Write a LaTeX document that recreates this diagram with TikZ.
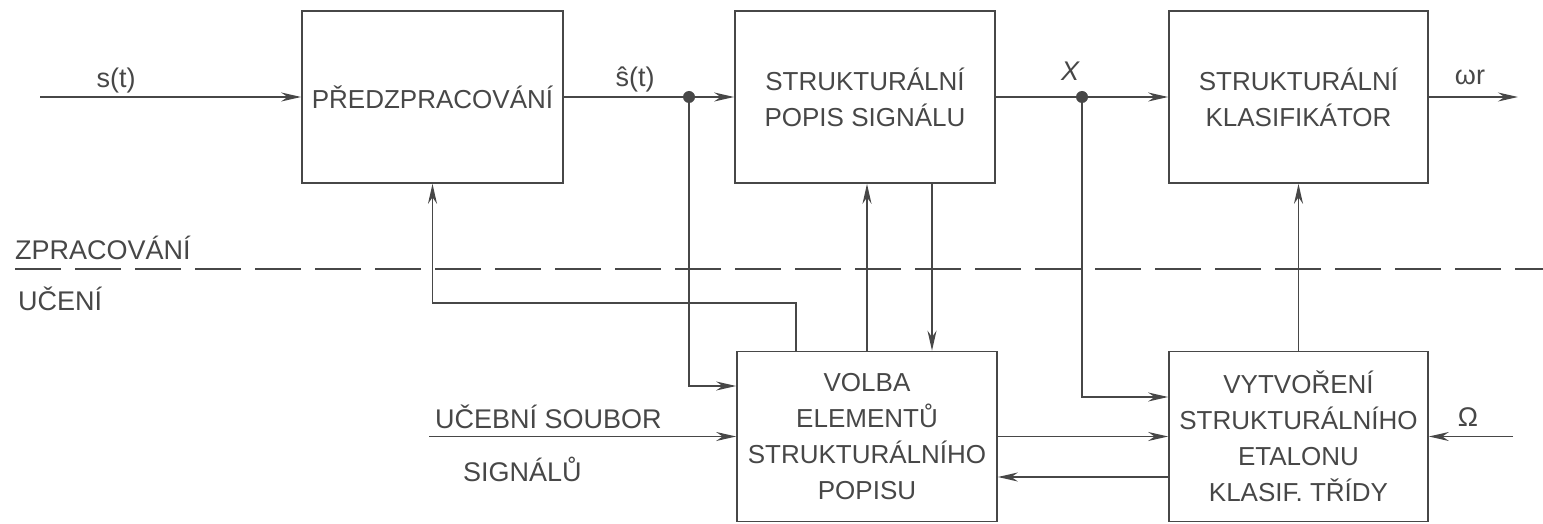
\documentclass[tikz,border=0pt]{standalone}
\usepackage{fontspec}
\setsansfont{Liberation Sans}
\usetikzlibrary{arrows.meta, positioning, calc}
\definecolor{ink}{HTML}{474747}
\tikzset{
  blok/.style={draw=ink, line width=1.7pt, minimum width=260pt, minimum height=172pt, align=center,
    font=\sffamily\fontsize{26}{36}\selectfont, text=ink, inner sep=2pt},
  flow/.style={-{Stealth[length=20pt, width=9pt]}, draw=ink, line width=1.7pt},
  wire/.style={draw=ink, line width=1.7pt},
  dashline/.style={draw=ink, line width=1.7pt, dash pattern=on 46pt off 14pt},
  uzel/.style={circle, fill=ink, inner sep=0pt, minimum size=12pt},
  lbl/.style={font=\sffamily\fontsize{27}{32}\selectfont, text=ink, inner sep=0pt}
}

\begin{document}
\begin{tikzpicture}[x=1pt, y=1pt]
\useasboundingbox (0,0) rectangle (1543,523);
% zpracovani
\node[blok, minimum width=261pt] (pre) at (432.5,426) {PŘEDZPRACOVÁNÍ};
\node[blok] (popis) at (865,426) {STRUKTURÁLNÍ\\POPIS SIGNÁLU};
\node[blok, minimum width=259pt] (klas) at (1298.5,426) {STRUKTURÁLNÍ\\KLASIFIKÁTOR};
% uceni
\node[blok, minimum height=170pt] (volba) at (867,86.5) {VOLBA\\ELEMENTŮ\\STRUKTURÁLNÍHO\\POPISU};
\node[blok, minimum width=259pt, minimum height=170pt] (vytv) at (1298.5,86.5) {VYTVOŘENÍ\\STRUKTURÁLNÍHO\\ETALONU\\KLASIF. TŘÍDY};
\node[uzel] (d1) at (689,426) {};
\node[uzel] (d2) at (1082,426) {};
\coordinate (vstup) at (40,426);
\coordinate (vystup) at (1518,426);
\coordinate (ucsoub) at (429,86.5);
\coordinate (omega) at (1513,86.5);
\coordinate (zpet) at (432.5,220);
\draw[flow] (vstup) -- (pre.west);
\draw[wire] (pre.east) -- (d1); \draw[flow] (d1) -- (popis.west);
\draw[wire] (popis.east) -- (d2); \draw[flow] (d2) -- (klas.west);
\draw[flow] (klas.east) -- (vystup);
\draw[flow] (d1) |- ([yshift=50.5pt]volba.west);
\draw[flow] (d2) |- ([yshift=39.5pt]vytv.west);
\draw[flow] ([xshift=-71pt]volba.north) |- (zpet) -- (pre.south);
\draw[flow] (volba.north) -- (volba.north |- popis.south);
\draw[flow] ([xshift=67pt]popis.south) -- ([xshift=67pt]popis.south |- volba.north);
\draw[flow] (ucsoub) -- (volba.west);
\draw[flow] (volba.east) -- (vytv.west);
\draw[flow] ([yshift=-40.5pt]vytv.west) -- ([yshift=-40.5pt]volba.east);
\draw[flow] (vytv.north) -- (klas.south);
\draw[flow] (omega) -- (vytv.east);
\draw[dashline] (15,254) -- (1543,254);
% popisky
\node[lbl] (st) at (116,442) {s(t)};
\node[lbl] (sh) at (635,444) {ŝ(t)};
\node[lbl] (xx) at (1070,452) {\itshape X};
\node[lbl] (wr) at (1470,446) {ωr};
\node[lbl] (om) at (1468,106) {Ω};
\node[lbl, anchor=west] (ucb) at (435,106) {UČEBNÍ SOUBOR};
\node[lbl, anchor=west] (sig) at (463,54) {SIGNÁLŮ};
\node[lbl, anchor=west] (zpr) at (15,275) {ZPRACOVÁNÍ};
\node[lbl, anchor=west] (uce) at (18,224) {UČENÍ};
\end{tikzpicture}
\end{document}
